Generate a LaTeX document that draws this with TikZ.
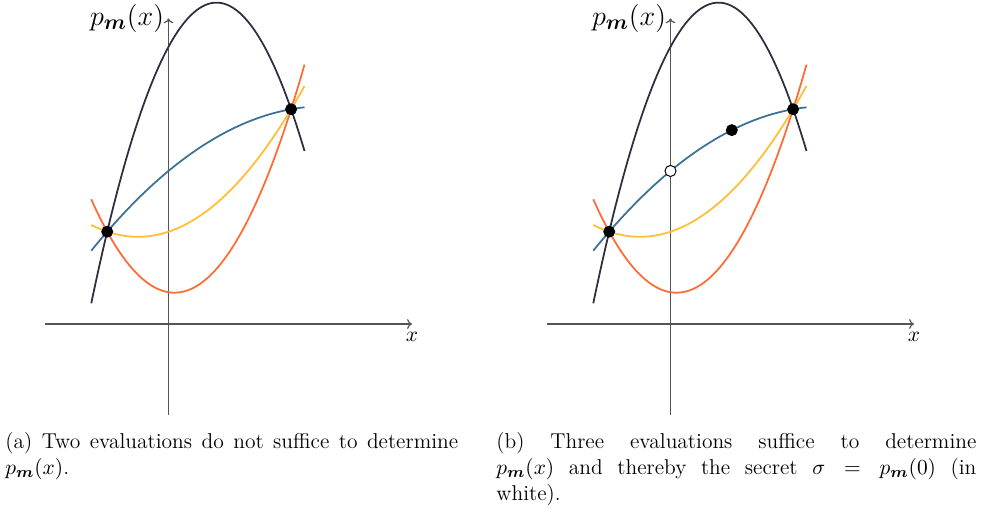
\documentclass[tikz,border=0pt]{standalone}
\usepackage{tikz}
\usepackage{xcolor}
\usepackage{bm}
\usetikzlibrary{arrows.meta, positioning}
\definecolor{polyink}{HTML}{2D2E40}
\definecolor{polyblue}{HTML}{3A7194}
\definecolor{polyyellow}{HTML}{FFBE33}
\definecolor{polyorange}{HTML}{FF6B35}
\definecolor{axisgray}{HTML}{555555}

\tikzset{
  axisline/.style={axisgray, line width=0.6pt, -{To[length=2.5pt, width=5pt]}},
  axislabel/.style={text=black},
  curve/.style={line width=0.9pt, domain=-1.26:2.22, samples=80, smooth},
  share/.style={circle, fill=black, draw=black, inner sep=0pt, minimum size=0.2cm},
  secret/.style={share, fill=white, line width=0.5pt},
  caption/.style={anchor=base west, inner sep=0pt, align=justify,
    font=\fontsize{11}{13.3}\selectfont},
}

% axes and the four polynomials through the two shares
\newcommand{\polycurves}{%
  \draw[axisline] (-2.015,0) -- (3.972,0)
    node[axislabel, below, inner sep=4pt, font=\fontsize{10.5}{12}\selectfont] {$x$};
  \draw[axisline] (0,-91) -- (0,305.5)
    node[axislabel, left, inner sep=2pt, font=\fontsize{15}{17}\selectfont] {$p_{\bm{m}}(x)$};
  \draw[curve, polyorange] plot (\x, {50.66*\x*\x - 9.86*\x + 31.78});
  \draw[curve, polyyellow] plot (\x, {20.42*\x*\x + 20.38*\x + 92.26});
  \draw[curve, polyblue]   plot (\x, {-9.95*\x*\x + 50.75*\x + 153});
  \draw[curve, polyink]    plot (\x, {-72*\x*\x + 112.8*\x + 277.1});
}

\begin{document}
\begin{tikzpicture}
  \useasboundingbox (0,0) rectangle (17.676,-9.342);

  % (a) two shares
  \begin{scope}[shift={(3.033,-5.832)}, x=1.1034cm, y=0.018cm]
    \polycurves
    \node[share] (a-one) at (-1,92.3) {};
    \node[share] (a-two) at (2,214.7) {};
  \end{scope}

  % (b) three shares and the secret
  \begin{scope}[shift={(12.069,-5.832)}, x=1.1034cm, y=0.018cm]
    \polycurves
    \node[share]  (b-one)    at (-1,92.3) {};
    \node[share]  (b-two)    at (1,193.8) {};
    \node[share]  (b-three)  at (2,214.7) {};
    \node[secret] (b-secret) at (0,153) {};
  \end{scope}

  \node[caption, text width=8.15cm] (cap-a) at (0.09,-8.069)
    {(a) Two evaluations do not suffice to determine $p_{\bm{m}}(x)$.};
  \node[caption, text width=8.64cm] (cap-b) at (8.928,-8.069)
    {(b) Three evaluations suffice to determine\linebreak $p_{\bm{m}}(x)$ and thereby
     the secret $\sigma = p_{\bm{m}}(0)$ (in\linebreak white).};
\end{tikzpicture}
\end{document}
